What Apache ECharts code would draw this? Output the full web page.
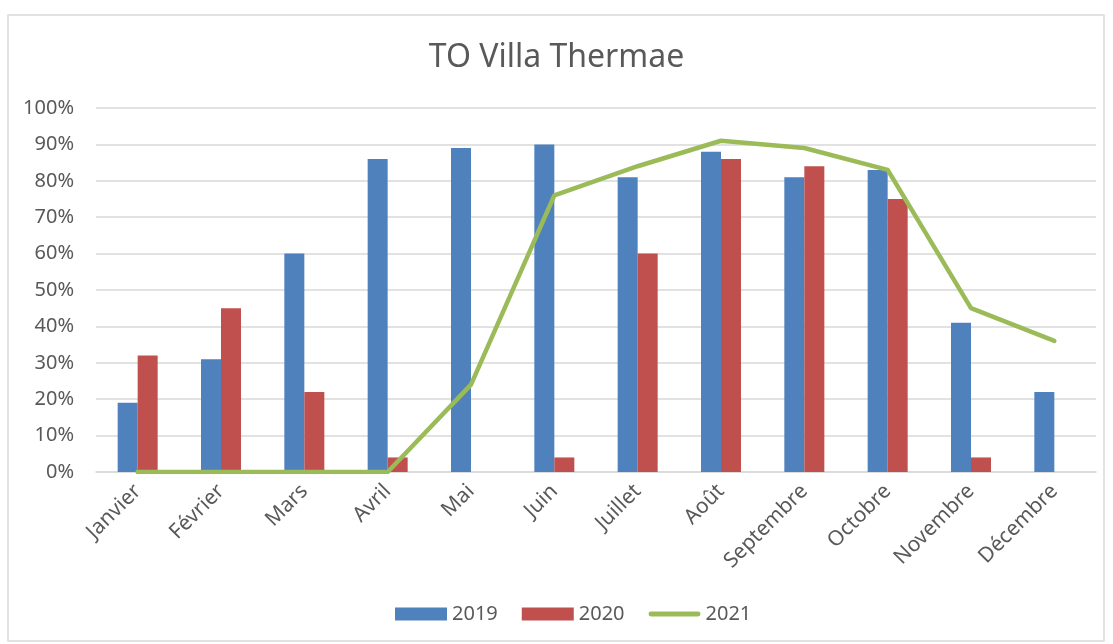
<!DOCTYPE html>
<html>
<head>
<meta charset="utf-8">
<script src="https://cdn.jsdelivr.net/npm/echarts@6/dist/echarts.min.js"></script>
<style>
  html, body { margin: 0; padding: 0; background: #fff; }
  #chart { width: 1113px; height: 644px; }
</style>
</head>
<body>
<div id="chart"></div>
<script>
// données (en %)
var months = ['Janvier', 'Février', 'Mars', 'Avril', 'Mai', 'Juin', 'Juillet', 'Août', 'Septembre', 'Octobre', 'Novembre', 'Décembre'];
var taux2019 = [19, 31, 60, 86, 89, 90, 81, 88, 81, 83, 41, 22];
var taux2020 = [32, 45, 22, 4, 0, 4, 60, 86, 84, 75, 4, 0];
var taux2021 = [0, 0, 0, 0, 24, 76, 84, 91, 89, 83, 45, 36];

var txtColor = '#595959';
var font = 'Noto Sans';

var chart = echarts.init(document.getElementById('chart'));
chart.setOption({
  animation: false,
  textStyle: { fontFamily: font },
  title: {
    text: 'TO Villa Thermae',
    left: 'center',
    top: 37,
    textStyle: { color: txtColor, fontSize: 32, fontWeight: 'normal', fontFamily: font }
  },
  graphic: [{
    type: 'rect',
    shape: { x: 8, y: 15, width: 1096, height: 626 },
    style: { fill: 'none', stroke: '#D9D9D9', lineWidth: 1.5 },
    silent: true
  }],
  legend: {
    bottom: 15,
    left: 390,
    itemGap: 24,
    itemWidth: 52,
    itemHeight: 13,
    textStyle: { color: txtColor, fontSize: 20, fontFamily: font },
    data: [
      { name: '2019', icon: 'rect' },
      { name: '2020', icon: 'rect' },
      { name: '2021', icon: 'path://M2,0L50,0A2.5,2.5,0,0,1,50,5L2,5A2.5,2.5,0,0,1,2,0Z' }
    ]
  },
  grid: { left: 96, right: 17, top: 108, bottom: 172 },
  xAxis: {
    type: 'category',
    data: months,
    axisLine: { lineStyle: { color: '#D9D9D9', width: 1.5 } },
    axisTick: { show: false },
    axisLabel: { rotate: 45, color: txtColor, fontSize: 21, margin: 16, interval: 0 }
  },
  yAxis: {
    type: 'value',
    min: 0,
    max: 100,
    interval: 10,
    axisLine: { show: false },
    axisTick: { show: false },
    splitLine: { lineStyle: { color: '#D9D9D9', width: 1.5 } },
    axisLabel: { color: txtColor, fontSize: 20, margin: 22, formatter: '{value}%' }
  },
  series: [
    {
      name: '2019', type: 'bar', data: taux2019,
      barGap: '0%', barCategoryGap: '52%',
      itemStyle: { color: '#4F81BD' }
    },
    {
      name: '2020', type: 'bar', data: taux2020,
      barGap: '0%', barCategoryGap: '52%',
      itemStyle: { color: '#C0504D' }
    },
    {
      name: '2021', type: 'line', data: taux2021,
      symbol: 'none', showSymbol: false,
      lineStyle: { color: '#9BBB59', width: 4.5, cap: 'round', join: 'round' },
      itemStyle: { color: '#9BBB59' },
      z: 5
    }
  ]
});
</script>
</body>
</html>
